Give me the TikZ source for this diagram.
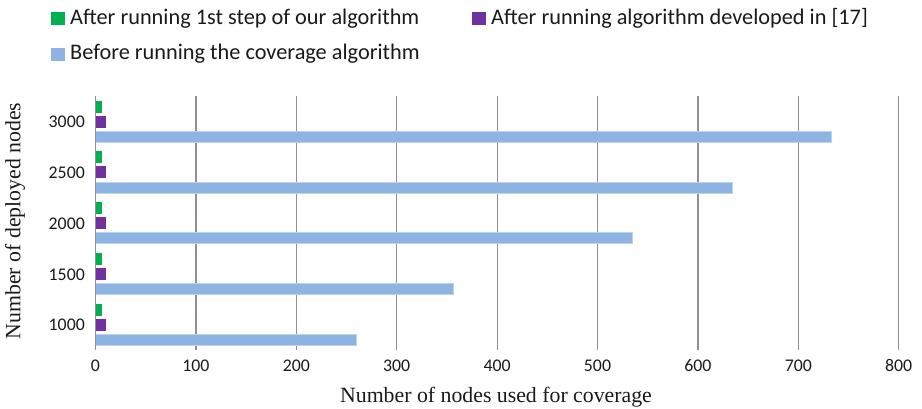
\documentclass[tikz,border=0pt]{standalone}
\usepackage{fontspec}
\setmainfont{Carlito}
\newfontfamily\serifttl{Liberation Serif}
\definecolor{cgreen}{HTML}{00B050}
\definecolor{cpurple}{HTML}{7030A0}
\definecolor{cblue}{HTML}{8EB4E3}
\definecolor{cgrid}{HTML}{909090}
\definecolor{ctext}{HTML}{1A1A1A}
\begin{document}
\begin{tikzpicture}[x=1bp,y=-1bp,
  grid/.style={draw=cgrid,line width=1.2bp},
  tick/.style={font=\fontsize{17.8bp}{20bp}\selectfont,text=ctext,inner sep=0pt},
  legtext/.style={font=\fontsize{22.3bp}{26bp}\selectfont,text=ctext,inner sep=0pt,anchor=west},
  ttl/.style={font=\serifttl\fontsize{21.8bp}{26bp}\selectfont,text=ctext,inner sep=0pt},
  gbar/.style={fill=cgreen},
  pbar/.style={fill=cpurple},
  bbar/.style={fill=cblue,draw=cblue!60!white,line width=0.6bp}]
\useasboundingbox (0,0) rectangle (922,408);
% gridlines
\foreach \v in {1,...,8}{
  \draw[grid] ({95.5+100.4*\v/1},96) -- ({95.5+100.4*\v/1},350);
}
% bars: groups from top (3000) to bottom (1000)
\foreach \i/\val in {0/733,1/634,2/535,3/356,4/260}{
  \pgfmathsetmacro{\top}{96+50.8*\i}
  \fill[gbar] (95.5,\top+4.5) rectangle (102,\top+16.5);
  \fill[pbar] (95.5,\top+19.5) rectangle (105.5,\top+31.5);
  \filldraw[bbar] (95.5,\top+35) rectangle ({95.5+1.004*\val},\top+46);
}
% axis line
\draw[grid] (95.5,96) -- (95.5,350);
% y tick labels
\foreach \i/\lab in {0/3000,1/2500,2/2000,3/1500,4/1000}{
  \node[tick,anchor=east] (y\lab) at (85,{96+50.8*\i+26}) {\lab};
}
% x tick labels
\foreach \v in {0,...,8}{
  \pgfmathtruncatemacro{\lab}{100*\v}
  \node[tick] (x\v) at ({95.5+100.4*\v},365.5) {\lab};
}
% axis titles
\node[ttl] (xt) at (496,397) {Number of nodes used for coverage};
\node[ttl,rotate=90] (yt) at (15,221) {Number of deployed nodes};
% legend
\fill[cgreen] (51,12) rectangle (65,25);
\node[legtext] (l1) at (70,18.5) {After running 1st step of our algorithm};
\fill[cpurple] (472,12) rectangle (486,25);
\node[legtext] (l2) at (491,18.5) {After running algorithm developed in [17]};
\fill[cblue] (51,47.5) rectangle (65,60.5);
\node[legtext] (l3) at (70,54) {Before running the coverage algorithm};
\end{tikzpicture}
\end{document}
